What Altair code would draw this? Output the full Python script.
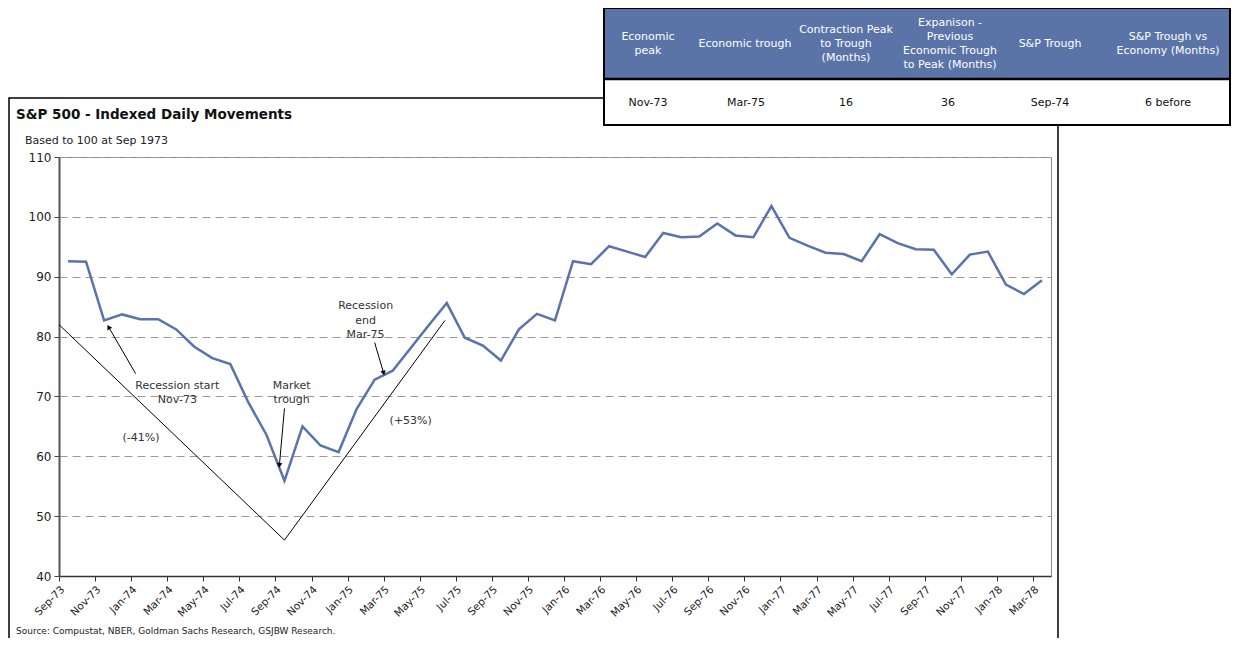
import math
import altair as alt
import pandas as pd

# ---------------- data ----------------
tick_labels = ["Sep-73", "Nov-73", "Jan-74", "Mar-74", "May-74", "Jul-74", "Sep-74",
               "Nov-74", "Jan-75", "Mar-75", "May-75", "Jul-75", "Sep-75", "Nov-75",
               "Jan-76", "Mar-76", "May-76", "Jul-76", "Sep-76", "Nov-76", "Jan-77",
               "Mar-77", "May-77", "Jul-77", "Sep-77", "Nov-77", "Jan-78", "Mar-78"]

sp500_index = [92.6, 92.5, 82.7, 83.7, 82.9, 82.9, 81.2, 78.3, 76.4, 75.4,
               69.0, 63.6, 55.9, 65.0, 61.8, 60.7, 67.9, 72.8, 74.3, 78.1,
               81.9, 85.6, 79.8, 78.5, 76.0, 81.2, 83.8, 82.7, 92.6, 92.1,
               95.1, 94.2, 93.3, 97.3, 96.6, 96.7, 98.9, 96.9, 96.6, 101.8,
               96.5, 95.2, 94.0, 93.8, 92.6, 97.1, 95.6, 94.6, 94.5, 90.4,
               93.7, 94.2, 88.7, 87.1, 89.4]

# trend "V" lines (month position, index value)
trend_month = [0.0, 12.5, 21.4]
trend_value = [82.0, 46.0, 82.7]

# annotation texts (month position, index value)
note_text = ["Recession start", "Nov-73", "Market", "trough", "Recession", "end",
             "Mar-75", "(-41%)", "(+53%)"]
note_month = [6.56, 6.56, 12.9, 12.9, 17.0, 17.0, 17.0, 4.55, 19.5]
note_value = [71.8, 69.4, 71.8, 69.4, 85.1, 82.6, 80.2, 63.0, 65.9]

# arrows: start -> tip
arrow_m0 = [4.25, 12.5, 17.5]
arrow_v0 = [73.8, 68.0, 79.0]
arrow_m1 = [2.75, 12.22, 18.0]
arrow_v1 = [81.6, 58.5, 73.9]

# table
table_headers = [["Economic", "peak"], ["Economic trough"],
                 ["Contraction Peak", "to Trough", "(Months)"],
                 ["Expanison -", "Previous", "Economic Trough", "to Peak (Months)"],
                 ["S&P Trough"], ["S&P Trough vs", "Economy (Months)"]]
table_row = ["Nov-73", "Mar-75", "16", "36", "Sep-74", "6 before"]

# ---------------- layout ----------------
W, H = 992, 419
X_DOM = [0, 55]
Y_DOM = [40, 110]
PX_M = W / (X_DOM[1] - X_DOM[0])
PX_V = H / (Y_DOM[1] - Y_DOM[0])
FONT = "DejaVu Sans"
LINE_COLOR = "#5b73ab"
HEADER_COLOR = "#5b74a8"

xscale = alt.Scale(domain=X_DOM, nice=False, zero=False)
yscale = alt.Scale(domain=Y_DOM, nice=False, zero=False)

label_arr = "[" + ",".join("'%s'" % s for s in tick_labels) + "]"

x_axis = alt.Axis(values=list(range(0, 55, 2)), labelExpr=label_arr + "[round(datum.value/2)]",
                  labelAngle=-45, labelAlign="right", labelBaseline="top",
                  labelFontSize=10.5, labelColor="#222", tickSize=5,
                  tickColor="#333", domainColor="#333", domainWidth=1.5, grid=False,
                  title=None, labelOverlap=False, labelFlush=False, labelPadding=3,
                  labelBound=False, labelSeparation=0)
y_axis = alt.Axis(values=list(range(40, 111, 10)), grid=True, gridDash=[8, 5],
                  gridColor="#9a9a9a", gridWidth=1, domainColor="#555", domainWidth=2,
                  tickSize=5, tickColor="#444", labelFontSize=12, labelColor="#222",
                  title=None, labelPadding=3, labelOverlap=False)


def X(f):
    return alt.X(f, type="quantitative", scale=xscale, axis=x_axis)


def Y(f):
    return alt.Y(f, type="quantitative", scale=yscale, axis=y_axis)


df = pd.DataFrame({"m": [i + 0.5 for i in range(len(sp500_index))], "v": sp500_index})

line = alt.Chart(df).mark_line(color=LINE_COLOR, strokeWidth=2.5).encode(x=X("m"), y=Y("v"))

trend = alt.Chart(pd.DataFrame({"m": trend_month, "v": trend_value})).mark_line(
    color="#000", strokeWidth=1).encode(x=X("m"), y=Y("v"))

notes = alt.Chart(pd.DataFrame({"m": note_month, "v": note_value, "t": note_text})).mark_text(
    fontSize=11, color="#333", align="center", baseline="middle").encode(
    x=X("m"), y=Y("v"), text="t:N")

arrows_df = pd.DataFrame({"m0": arrow_m0, "v0": arrow_v0, "m1": arrow_m1, "v1": arrow_v1})
arrows_df["ang"] = [
    math.degrees(math.atan2((m1 - m0) * PX_M, (v1 - v0) * PX_V)) % 360
    for m0, v0, m1, v1 in zip(arrow_m0, arrow_v0, arrow_m1, arrow_v1)
]
shafts = alt.Chart(arrows_df).mark_rule(color="#000", strokeWidth=1).encode(
    x=X("m0"), y=Y("v0"), x2="m1:Q", y2="v1:Q")
heads = alt.Chart(arrows_df).mark_point(shape="triangle-up", filled=True, color="#000",
                                        size=30, opacity=1).encode(
    x=X("m1"), y=Y("v1"), angle=alt.Angle("ang:Q", scale=None))

one = pd.DataFrame({"a": [0]})

# chart frame (outer box)
frame = alt.Chart(one).mark_rect(fillOpacity=0, stroke="#000", strokeWidth=1.5).encode(
    x=alt.value(-50), x2=alt.value(940 + 59), y=alt.value(-59), y2=alt.value(520))

title = alt.Chart(one).mark_text(text="S&P 500 - Indexed Daily Movements", fontSize=13.5,
                                 fontWeight="bold", color="#111", align="left",
                                 baseline="middle").encode(x=alt.value(-43), y=alt.value(-42))
subtitle = alt.Chart(one).mark_text(text="Based to 100 at Sep 1973", fontSize=11,
                                    color="#222", align="left", baseline="middle").encode(
    x=alt.value(-34), y=alt.value(-16))
source = alt.Chart(one).mark_text(text="Source: Compustat, NBER, Goldman Sachs Research, GSJBW Research.",
                                  fontSize=9, color="#222", align="left",
                                  baseline="middle").encode(x=alt.value(-43), y=alt.value(474))

# table
TX0, TX1 = 545, 1171
TY0, TYH, TY1 = -149, -78, -32
LH = 14
col_centers = [589, 686, 787, 891, 991, 1109]
row_centers = [589, 687, 787, 889, 991, 1109]

tbl_bg = alt.Chart(one).mark_rect(fill="#fff", stroke="#000", strokeWidth=2).encode(
    x=alt.value(TX0), x2=alt.value(TX1), y=alt.value(TY0), y2=alt.value(TY1))
tbl_head = alt.Chart(one).mark_rect(fill=HEADER_COLOR).encode(
    x=alt.value(TX0 + 1), x2=alt.value(TX1 - 1), y=alt.value(TY0 + 1), y2=alt.value(TYH))
tbl_sep = alt.Chart(one).mark_rule(color="#000", strokeWidth=2.5).encode(
    x=alt.value(TX0), x2=alt.value(TX1), y=alt.value(TYH))

tbl_layers = [tbl_bg, tbl_head, tbl_sep]
for hdr, cx in zip(table_headers, col_centers):
    y_first = (TY0 + TYH) / 2 - (len(hdr) - 1) * LH / 2
    tbl_layers.append(alt.Chart(one).mark_text(
        text="\n".join(hdr), lineBreak="\n", lineHeight=LH, fontSize=11, color="#fff",
        align="center", baseline="middle").encode(x=alt.value(cx), y=alt.value(y_first)))
for val, cx in zip(table_row, row_centers):
    tbl_layers.append(alt.Chart(one).mark_text(
        text=val, fontSize=11, color="#111", align="center", baseline="middle").encode(
        x=alt.value(cx), y=alt.value(-54)))

chart = alt.layer(frame, line, trend, shafts, heads, notes, title, subtitle, source,
                  *tbl_layers).properties(
    width=W, height=H,
    autosize=alt.AutoSizeParams(type="none"),
    padding={"left": 51, "top": 149, "right": 180, "bottom": 62},
).configure(font=FONT).configure_view(stroke="#888", strokeWidth=1
).configure_axis(labelOverlap=False)

chart.save("out.html", embed_options={"renderer": "svg", "actions": False})
